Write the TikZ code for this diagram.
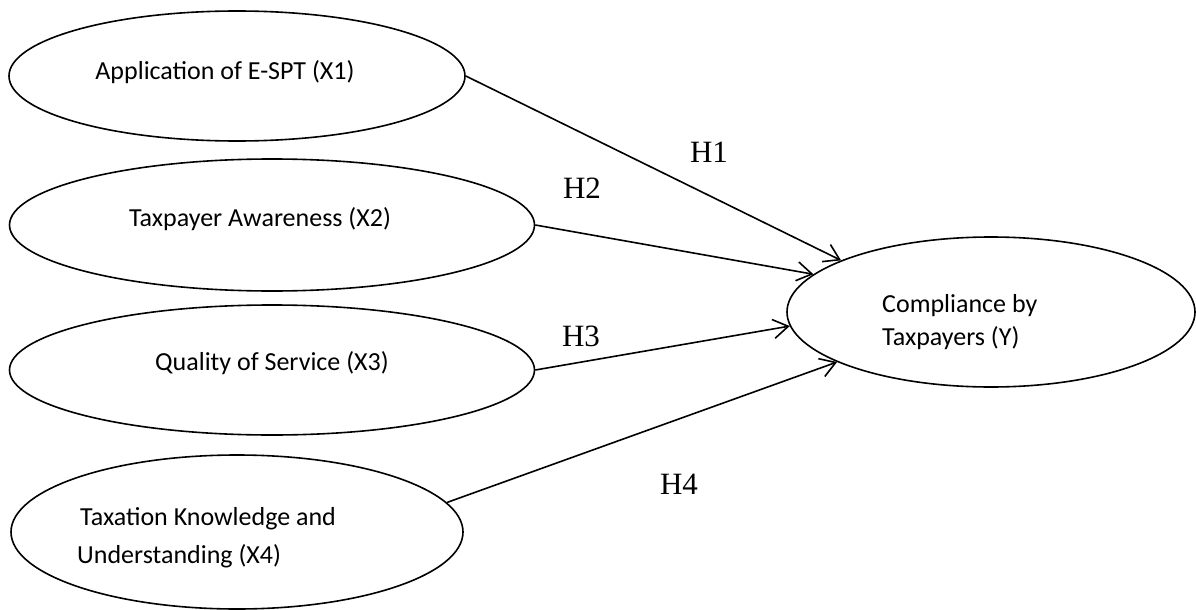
\documentclass[tikz,border=0pt]{standalone}
\usepackage{fontspec}
\setmainfont{Carlito}
\newfontfamily\hypfont{Liberation Serif}
\usetikzlibrary{shapes.geometric,arrows.meta}
\tikzset{
  oval/.style={draw, ellipse, line width=1.6pt, inner sep=0pt},
  vartext/.style={font=\fontsize{26}{36}\selectfont, inner sep=0pt},
  hyp/.style={font=\hypfont\fontsize{31}{36}\selectfont, inner sep=0pt, anchor=base},
  path/.style={draw, line width=1.6pt, -{Straight Barb[length=15pt, width=19pt, line width=1.6pt]}}
}
\begin{document}
\begin{tikzpicture}[x=1pt, y=-1pt]
  \useasboundingbox (0,0) rectangle (1196,610);

  % 独立変数の楕円
  \node[oval, minimum width=456pt, minimum height=130pt] (x1) at (237,76) {};
  \node[oval, minimum width=525pt, minimum height=132pt] (x2) at (272,225) {};
  \node[oval, minimum width=525pt, minimum height=130pt] (x3) at (272,370) {};
  \node[oval, minimum width=452pt, minimum height=154pt] (x4) at (237,532) {};

  % 従属変数の楕円
  \node[oval, minimum width=408pt, minimum height=150pt] (y) at (991,312) {};

  % 楕円内のテキスト
  \node[vartext, anchor=base] (t1) at (225,80) {Application of E-SPT (X1)};
  \node[vartext, anchor=base] (t2) at (260,226) {Taxpayer Awareness (X2)};
  \node[vartext, anchor=base] (t3) at (272,370) {Quality of Service (X3)};
  \node[vartext, anchor=base west, align=left, font=\fontsize{26}{38}\selectfont]
    (t4) at (77,563) {\hspace{3pt}Taxation Knowledge and\\Understanding (X4)};
  \node[vartext, anchor=base west, align=left, font=\fontsize{26}{33}\selectfont]
    (ty) at (882,345) {Compliance by\\Taxpayers (Y)};

  % 仮説の矢印
  \draw[path] (x1.east) -- (y.161);
  \draw[path] (x2.east) -- (y.168);
  \draw[path] (x3.east) -- (y.184.5);
  \draw[path] (x4.8) -- (y.198);

  % 仮説ラベル
  \node[hyp] (h1) at (709,162) {H1};
  \node[hyp] (h2) at (582,198) {H2};
  \node[hyp] (h3) at (581,346) {H3};
  \node[hyp] (h4) at (679,494) {H4};

\end{tikzpicture}
\end{document}
